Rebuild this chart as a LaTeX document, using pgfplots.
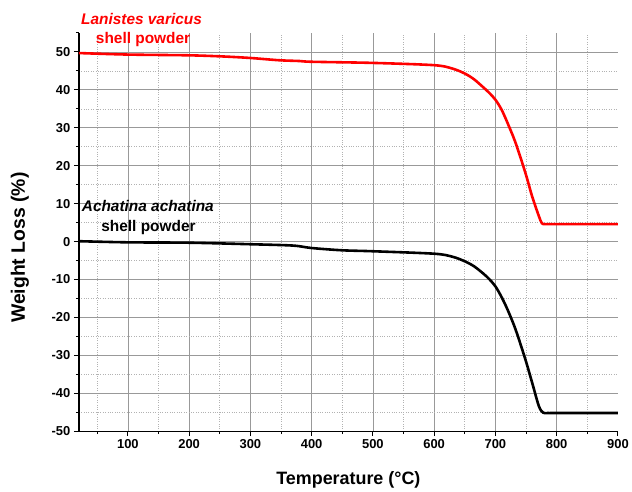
\documentclass[border=0pt]{standalone}
\usepackage{pgfplots}
\pgfplotsset{compat=1.18}
\usepackage{fontspec}
\setmainfont{Liberation Sans}
\begin{document}
\begin{tikzpicture}
\begin{axis}[
  scale only axis,
  width=540bp, height=399bp,
  xmin=20, xmax=900, ymin=-50, ymax=55,
  axis x line*=bottom, axis y line*=left,
  axis line style={line width=1.4bp, black},
  xtick={100,200,...,800}, ytick={-50,-40,...,50},
  minor xtick={50,150,...,850}, minor ytick={-45,-35,...,45},
  extra x ticks={900}, extra x tick labels={900},
  extra y ticks={55}, extra y tick labels={},
  extra x tick style={grid=none},
  extra y tick style={grid=none, major tick length=3bp},
  tick align=outside,
  major tick length=5bp, minor tick length=3bp,
  tick style={line width=1bp, black},
  grid=both,
  major grid style={solid, gray!80, line width=0.7bp},
  minor grid style={dotted, gray!60, line width=0.6bp},
  /pgf/number format/assume math mode=true,
  ticklabel style={font=\fontsize{13}{15}\selectfont\bfseries},
  xlabel={Temperature (°C)}, ylabel={Weight Loss (\%)},
  xlabel style={font=\fontsize{18}{20}\selectfont\bfseries, at={(axis description cs:0.5,-0.1328)}, anchor=base},
  ylabel style={font=\fontsize{19.5}{22}\selectfont\bfseries, at={(axis description cs:-0.1093,0.461)}, anchor=center},
  clip=false,
]
\addplot[red, line width=2.6bp, smooth] coordinates {
(20,49.7) (100,49.3) (200,49.1) (255,48.8) (300,48.4) (347,47.8) (380,47.6) (400,47.4)
(500,47.1) (600,46.5) (630,45.6) (650,44.3) (665,42.8) (680,40.7) (690,39.2) (700,37.4) (710,34.8) (720,31.2) (733,26.0)
(749,18.1) (760,11.9) (771,6.7) (776,4.8) (782,4.6) (800,4.6) (900,4.6)};
\addplot[black, line width=2.6bp, smooth] coordinates {
(20,0.1) (100,-0.2) (200,-0.3) (300,-0.7) (369,-1.05) (400,-1.7) (450,-2.3) (500,-2.55)
(600,-3.2) (630,-4.0) (650,-5.2) (665,-6.5) (680,-8.4) (690,-9.9) (700,-11.8) (710,-14.6) (720,-18.0) (733,-23.2) (749,-31.1)
(760,-37.2) (771,-43.4) (778,-45.1) (785,-45.2) (800,-45.2) (900,-45.2)};
\node[anchor=base, text=red, font=\fontsize{15.5}{18}\selectfont\bfseries\itshape] at (axis cs:122.3,57.2) {Lanistes varicus};
\node[anchor=base, text=red, font=\fontsize{15.5}{18}\selectfont\bfseries] at (axis cs:124.8,52.2) {shell powder};
\node[anchor=base, font=\fontsize{15.5}{18}\selectfont\bfseries\itshape] at (axis cs:132.6,7.8) {Achatina achatina};
\node[anchor=base, font=\fontsize{15.5}{18}\selectfont\bfseries] at (axis cs:133.7,2.7) {shell powder};
\end{axis}
\path (rel axis cs:0,0) ++(-79bp,-57bp) rectangle ++(632bp,489bp);
\end{tikzpicture}
\end{document}
